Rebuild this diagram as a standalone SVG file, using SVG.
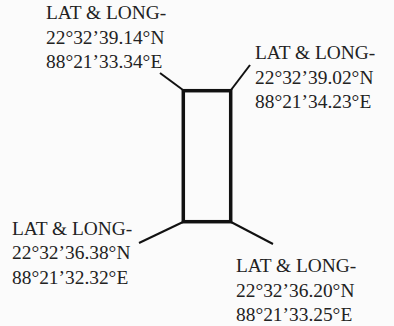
<svg xmlns="http://www.w3.org/2000/svg" width="394" height="326" viewBox="0 0 394 326">
<style>
text{font-family:'Liberation Serif','DejaVu Serif',serif;font-size:19.4px;fill:#222}
.c{stroke:#111;stroke-width:2;fill:none}
</style>
<rect width="394" height="326" fill="#fbfbfb"/>
<g id="connectors">
<line class="c" x1="183" y1="90" x2="160" y2="73"/>
<line class="c" x1="231" y1="90" x2="250" y2="65"/>
<line class="c" x1="183" y1="222" x2="139" y2="243"/>
<line class="c" x1="231" y1="222" x2="273" y2="244"/>
</g>
<g id="plot">
<rect x="183.3" y="90.7" width="47.4" height="131" fill="none" stroke="#111" stroke-width="3.5"/>
</g>
<g id="tl" font-family="Liberation Serif, serif">
<text x="46" y="19">LAT &amp; LONG-</text>
<text x="46" y="44">22°32’39.14°N</text>
<text x="46" y="68">88°21’33.34°E</text>
</g>
<g id="tr" font-family="Liberation Serif, serif">
<text x="255" y="59">LAT &amp; LONG-</text>
<text x="255" y="84">22°32’39.02°N</text>
<text x="255" y="108">88°21’34.23°E</text>
</g>
<g id="bl" font-family="Liberation Serif, serif">
<text x="12" y="235">LAT &amp; LONG-</text>
<text x="12" y="259">22°32’36.38°N</text>
<text x="12" y="284">88°21’32.32°E</text>
</g>
<g id="br" font-family="Liberation Serif, serif">
<text x="236" y="272">LAT &amp; LONG-</text>
<text x="236" y="297">22°32’36.20°N</text>
<text x="236" y="321">88°21’33.25°E</text>
</g>
</svg>
